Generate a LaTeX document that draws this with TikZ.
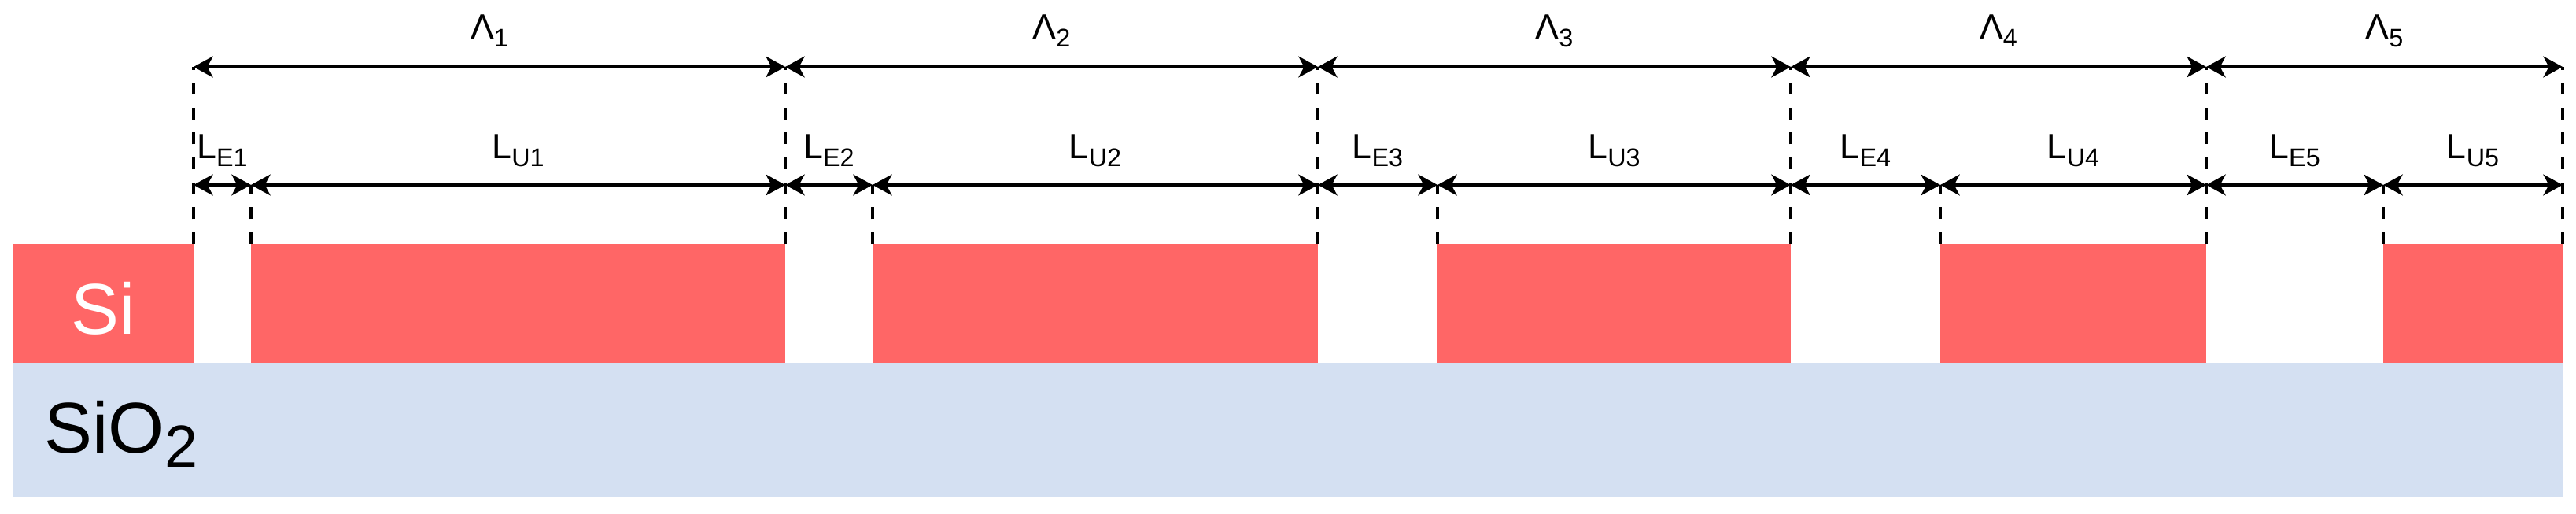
\documentclass[tikz,border=0pt]{standalone}
\usepackage{fontspec}
\setmainfont{Liberation Sans}
\usepackage{tikz}
\usetikzlibrary{arrows.meta,calc}

\definecolor{sicolor}{HTML}{FF6666}
\definecolor{oxcolor}{HTML}{D4E0F2}
\newcommand{\lsub}[1]{\raisebox{-2.8pt}{\fontsize{9.2pt}{9.2pt}\selectfont #1}}

\begin{document}
\begin{tikzpicture}[
        dim line/.style={line width=1.2pt, {Stealth[length=7pt,width=7.6pt,inset=2pt]}-{Stealth[length=7pt,width=7.6pt,inset=2pt]}},
        guide line/.style={line width=1.1pt, dash pattern=on 4.3pt off 4.7pt},
        si/.style={fill=sicolor},
        oxide/.style={fill=oxcolor},
        lab/.style={anchor=base, inner sep=0pt, font=\fontsize{12.7pt}{12.7pt}\selectfont},
        big/.style={anchor=base, inner sep=0pt, font=\fontsize{26pt}{26pt}\selectfont}
      ]
      \useasboundingbox (0,0) rectangle (32.74,6.53);

      \foreach \x [count=\i from 0] in {2.46,3.19,9.98,11.09,16.75,18.27,22.76,24.66,28.04,30.29,32.57} {
        \coordinate (f\i) at (\x,1.92);
        \coordinate (b\i) at (\x,3.43);
        \coordinate (m\i) at (\x,4.18);
        \coordinate (t\i) at (\x,5.68);
      }

      % layers
      \fill[oxide] (0.17,0.21) rectangle (32.57,1.92);
      \fill[si] (0.17,1.92) rectangle (b0);
      \foreach \a/\b in {1/2,3/4,5/6,7/8,9/10}
        \fill[si] (f\a) rectangle (b\b);

      \node[big, text=white] (si) at (1.31,2.28) {Si};
      \node[big, anchor=base west] (sio2) at (0.56,0.77) {SiO\raisebox{-5.1pt}{\fontsize{21.5pt}{21.5pt}\selectfont 2}};

      % guides
      \foreach \i in {0,2,...,10}
        \draw[guide line] (b\i) -- (t\i);
      \foreach \i in {1,3,...,9}
        \draw[guide line] (b\i) -- (m\i);

      % periods
      \foreach \a/\b/\n in {0/2/1,2/4/2,4/6/3,6/8/4,8/10/5} {
        \draw[dim line] (t\a) -- (t\b);
        \node[lab] (lam\n) at ($(t\a)!0.5!(t\b)+(0,0.35)$) {Λ\lsub{\n}};
      }

      % etched and unetched lengths
      \foreach \a/\b/\c/\n in {0/1/2/1,2/3/4/2,4/5/6/3,6/7/8/4,8/9/10/5} {
        \draw[dim line] (m\a) -- (m\b);
        \draw[dim line] (m\b) -- (m\c);
        \node[lab] (le\n) at ($(m\a)!0.5!(m\b)+(0,0.33)$) {L\lsub{E\n}};
        \node[lab] (lu\n) at ($(m\b)!0.5!(m\c)+(0,0.33)$) {L\lsub{U\n}};
      }
\end{tikzpicture}
\end{document}
